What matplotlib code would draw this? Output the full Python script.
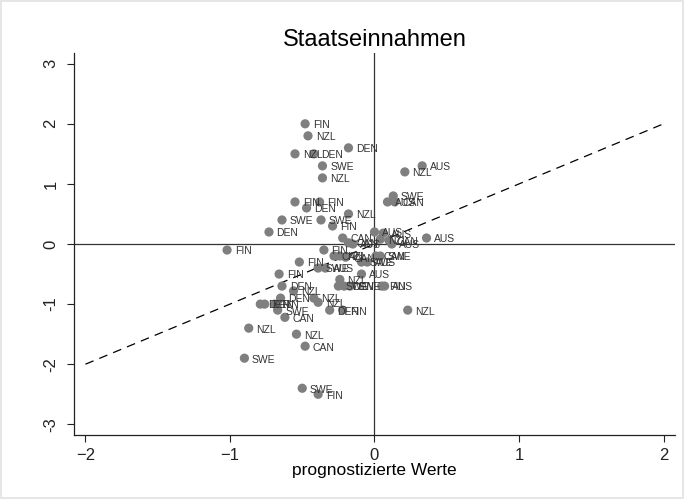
import matplotlib
matplotlib.use("Agg")
import matplotlib.pyplot as plt

plt.rcParams['font.family'] = ['Liberation Sans', 'DejaVu Sans']

# prognostizierte Werte (x), beobachtete Werte (y), Länderkürzel
x_vals = [-0.48, -0.46, -0.55, -0.42, -0.18, -0.36, -0.36, 0.33, 0.21, 0.13,
          0.09, 0.14, -0.55, -0.38, -0.47, -0.18, -0.64, -0.37, -0.29, -0.73,
          -1.02, 0.00, 0.06, -0.22, -0.18, -0.15, 0.04, 0.10, 0.12, 0.36,
          -0.35, -0.28, -0.24, -0.20, -0.39, -0.34, -0.09, -0.05, 0.01, 0.04,
          -0.52, -0.66, -0.09, -0.24, -0.25, -0.21, -0.17, 0.05, 0.07, -0.64,
          -0.56, -0.65, -0.42, -0.39, -0.79, -0.76, -0.69, -0.67, -0.62, -0.31,
          -0.22, 0.23, -0.87, -0.54, -0.48, -0.90, -0.50, -0.39]
y_vals = [2.00, 1.80, 1.50, 1.50, 1.60, 1.30, 1.10, 1.30, 1.20, 0.80,
          0.70, 0.70, 0.70, 0.70, 0.60, 0.50, 0.40, 0.40, 0.30, 0.20,
          -0.10, 0.20, 0.18, 0.10, 0.02, 0.00, 0.08, 0.06, 0.00, 0.10,
          -0.10, -0.20, -0.20, -0.22, -0.40, -0.40, -0.30, -0.30, -0.20, -0.20,
          -0.30, -0.50, -0.50, -0.59, -0.70, -0.70, -0.70, -0.70, -0.70, -0.70,
          -0.78, -0.90, -0.90, -0.97, -1.00, -1.00, -1.00, -1.10, -1.22, -1.10,
          -1.10, -1.10, -1.40, -1.50, -1.70, -1.90, -2.40, -2.50]
labels = ['FIN', 'NZL', 'NZL', 'DEN', 'DEN', 'SWE', 'NZL', 'AUS', 'NZL', 'SWE',
          'AUS', 'CAN', 'FIN', 'FIN', 'DEN', 'NZL', 'SWE', 'SWE', 'FIN', 'DEN',
          'FIN', 'AUS', 'AUS', 'CAN', 'CAN', 'AUS', 'NZL', 'CAN', 'AUS', 'AUS',
          'FIN', 'CAN', 'NZL', 'CAN', 'SWE', 'AUS', 'SWE', 'AUS', 'CAN', 'SWE',
          'FIN', 'FIN', 'AUS', 'NZL', 'SWE', 'DEN', 'SWE', 'FIN', 'AUS', 'DEN',
          'NZL', 'DEN', 'NZL', 'NZL', 'DEN', 'DEN', 'FIN', 'SWE', 'CAN', 'DEN',
          'FIN', 'NZL', 'NZL', 'NZL', 'CAN', 'SWE', 'SWE', 'FIN']

x_ticks = [-2, -1, 0, 1, 2]
y_ticks = [-3, -2, -1, 0, 1, 2, 3]

fig = plt.figure(figsize=(6.84, 4.99), dpi=100)
fig.patch.set_edgecolor('#e6e6e6')
fig.patch.set_linewidth(1.5)
ax = fig.add_axes([0.108, 0.128, 0.879, 0.766])

ax.axhline(0, color='#333333', lw=0.9, zorder=1)
ax.axvline(0, color='#333333', lw=0.9, zorder=1)
ax.plot([-2, 2], [-2, 2], color='black', lw=0.9, ls=(0, (7, 5)), zorder=1)

ax.scatter(x_vals, y_vals, s=44, color='#7f7f7f', edgecolors='none', zorder=2)
for xv, yv, lab in zip(x_vals, y_vals, labels):
    ax.annotate(lab, (xv, yv), xytext=(5.5, -1), textcoords='offset points',
                fontsize=7.5, color='#333333', va='center', ha='left', zorder=3)

ax.set_xlim(-2.08, 2.08)
ax.set_ylim(-3.18, 3.18)
ax.set_xticks(x_ticks)
ax.set_yticks(y_ticks)
ax.set_yticklabels([str(t) for t in y_ticks], rotation=90, va='center')
ax.tick_params(labelsize=12, length=5, width=0.8, colors='#222222')
ax.tick_params(axis='y', pad=6)
ax.tick_params(axis='x', pad=4)
for side in ['top', 'right']:
    ax.spines[side].set_visible(False)
for side in ['left', 'bottom']:
    ax.spines[side].set_linewidth(0.9)
    ax.spines[side].set_color('#222222')

ax.set_xlabel('prognostizierte Werte', fontsize=12.5, labelpad=0)
ax.set_title('Staatseinnahmen', fontsize=17, pad=5)

fig.savefig('out.png', dpi=100)
